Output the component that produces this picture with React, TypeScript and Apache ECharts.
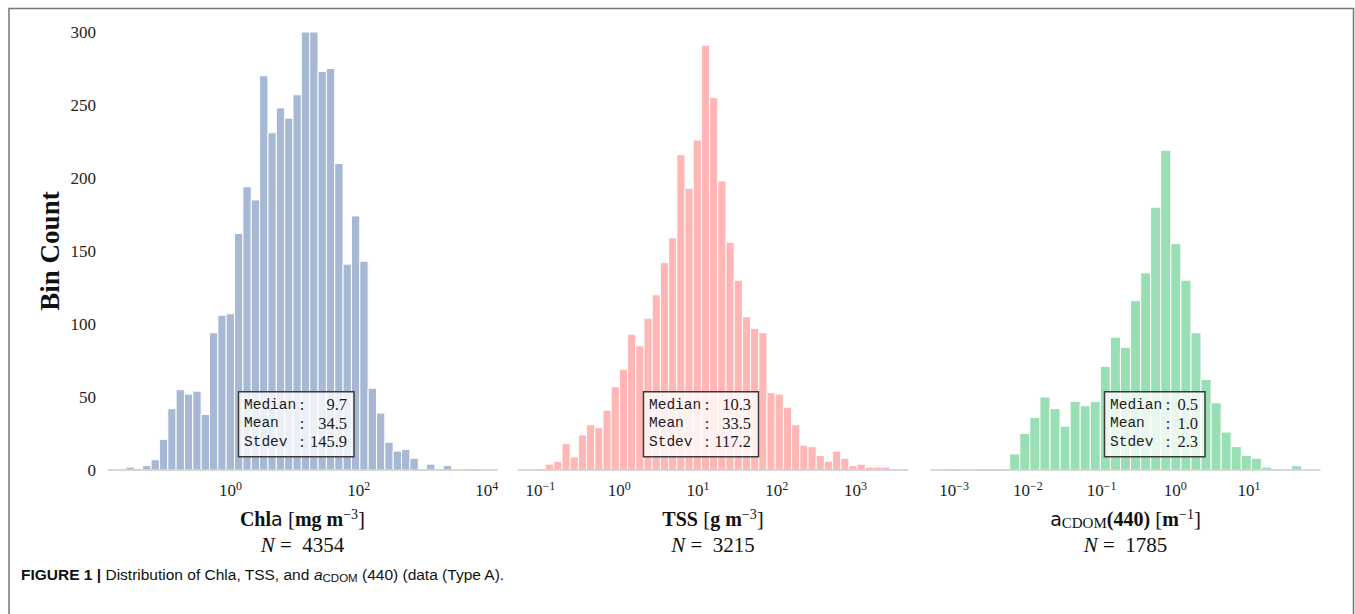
import React, { useEffect, useRef } from "react";
import * as echarts from "echarts";

// ---------- DATA ----------
// Histogram bin counts (log-spaced bins)
const chlaCounts = [2, 1, 3, 7, 21, 42, 55, 52, 54, 38, 94, 106, 107, 162, 194, 185, 270, 231, 248, 241, 257, 300, 300, 273, 275, 210, 141, 174, 143, 56, 39, 19, 13, 14, 8, 0, 4, 1, 3, 0, 0, 1];
const tssCounts = [1, 4, 6, 18, 9, 24, 31, 29, 41, 57, 69, 93, 85, 104, 120, 142, 159, 216, 193, 226, 291, 255, 198, 156, 130, 105, 97, 94, 53, 52, 43, 31, 17, 16, 10, 6, 13, 8, 3, 4, 2, 2, 2];
const cdomCounts = [1, 0, 0, 1, 1, 1, 11, 25, 36, 50, 42, 30, 47, 44, 47, 71, 91, 84, 116, 135, 180, 219, 155, 130, 94, 62, 46, 26, 16, 10, 8, 2, 1, 0, 3];

// log10 of the first bin edge and log10 bin width
const chlaBinStart = -1.63;
const chlaBinWidth = 0.13026;
const tssBinStart = -1.0381;
const tssBinWidth = 0.10412;
const cdomBinStart = -3.0637;
const cdomBinWidth = 0.13652;

// x-axis ranges (log10 units)
const chlaRange = [-1.911, 4.158];
const tssRange = [-1.2845, 3.6679];
const cdomRange = [-3.3119, 1.9627];

// tick labels (exponents of 10)
const chlaTicks = [0, 2, 4];
const tssTicks = [-1, 0, 1, 2, 3];
const cdomTicks = [-3, -2, -1, 0, 1];
const yTicks = [0, 50, 100, 150, 200, 250, 300];

// summary statistics
const statNames = ["Median", "Mean", "Stdev"];
const chlaStats = ["9.7", "34.5", "145.9"];
const tssStats = ["10.3", "33.5", "117.2"];
const cdomStats = ["0.5", "1.0", "2.3"];
const sampleSizes = [4354, 3215, 1785];

// ---------- helpers ----------
const SERIF = "Liberation Serif";
const SANS = "Liberation Sans";
const MONO = "Liberation Mono";

function toBins(counts: number[], start: number, width: number) {
  return counts.map((c, i) => [start + i * width, start + (i + 1) * width, c]);
}

function supText(v: number) {
  return v < 0 ? "\u2212" + Math.abs(v) : String(v);
}

const nameRich = {
  b: { fontFamily: SERIF, fontWeight: "bold", fontSize: 20, lineHeight: 26, color: "#111", align: "center" },
  a: { fontFamily: "DejaVu Sans", fontSize: 19, lineHeight: 26, color: "#111", align: "center" },
  r: { fontFamily: SERIF, fontSize: 21, lineHeight: 26, color: "#111", align: "center" },
  sup: { fontFamily: SERIF, fontSize: 14, lineHeight: 16, padding: [0, 0, 10, 0], color: "#111", align: "center" },
  sub: { fontFamily: SERIF, fontSize: 15, lineHeight: 16, padding: [8, 0, 0, 0], color: "#111", align: "center" },
  ni: { fontFamily: SERIF, fontStyle: "italic", fontSize: 21, lineHeight: 26, color: "#111", align: "center" },
};

const tickRich = {
  b: { fontFamily: SERIF, fontSize: 17, color: "#222" },
  s: { fontFamily: SERIF, fontSize: 12, padding: [0, 0, 9, 0], color: "#222" },
};

const panels = [
  {
    counts: chlaCounts, start: chlaBinStart, width: chlaBinWidth, range: chlaRange, ticks: chlaTicks,
    stats: chlaStats, color: "#a7b8d4", left: 108, w: 389,
    name: "{b|Chl}{a|a}{r| [}{b|mg m}{sup|\u22123}{r|]}\n{ni|N}{r| =  " + sampleSizes[0] + "}",
    box: { x: 238.5, w: 115.5, labelX: 244, colonX: 302, valueX: 347 },
  },
  {
    counts: tssCounts, start: tssBinStart, width: tssBinWidth, range: tssRange, ticks: tssTicks,
    stats: tssStats, color: "#ffb6b5", left: 518, w: 390,
    name: "{b|TSS}{r| [}{b|g m}{sup|\u22123}{r|]}\n{ni|N}{r| =  " + sampleSizes[1] + "}",
    box: { x: 643.5, w: 115, labelX: 649, colonX: 707, valueX: 751 },
  },
  {
    counts: cdomCounts, start: cdomBinStart, width: cdomBinWidth, range: cdomRange, ticks: cdomTicks,
    stats: cdomStats, color: "#98dfb3", left: 931, w: 389,
    name: "{a|a}{sub|CDOM}{b|(440)}{r| [}{b|m}{sup|\u22121}{r|]}\n{ni|N}{r| =  " + sampleSizes[2] + "}",
    box: { x: 1104.5, w: 100.5, labelX: 1110, colonX: 1168, valueX: 1198 },
  },
];

const GRID_TOP = 32;
const GRID_H = 438;
const Y_MAX = 300;

export default function App() {
  const ref = useRef<HTMLDivElement>(null);

  useEffect(() => {
    if (!ref.current) return;
    const chart = echarts.init(ref.current, null, { renderer: "svg" });

    const grids = panels.map((p) => ({ left: p.left, top: GRID_TOP, width: p.w, height: GRID_H }));

    const xAxes = panels.map((p, i) => ({
      type: "value",
      gridIndex: i,
      min: p.range[0],
      max: p.range[1],
      z: 10,
      axisLine: { show: true, onZero: false, lineStyle: { color: "#cccccc", width: 1.5 } },
      axisTick: { show: false },
      splitLine: { show: false },
      axisLabel: {
        customValues: p.ticks,
        margin: 10,
        formatter: (v: number) => "{b|10}{s|" + supText(Math.round(v)) + "}",
        rich: tickRich,
      },
      name: p.name,
      nameLocation: "middle",
      nameGap: 36,
      nameTextStyle: { rich: nameRich, align: "center" },
    }));

    const yAxes = panels.map((p, i) => ({
      type: "value",
      gridIndex: i,
      min: 0,
      max: Y_MAX,
      show: i === 0,
      axisLine: { show: false },
      axisTick: { show: false },
      splitLine: { show: false },
      axisLabel: {
        customValues: yTicks,
        margin: 12,
        fontFamily: SERIF,
        fontSize: 17,
        color: "#222",
      },
      name: i === 0 ? "Bin Count" : "",
      nameLocation: "middle",
      nameGap: 45,
      nameTextStyle: { fontFamily: SERIF, fontWeight: "bold", fontSize: 27, color: "#111" },
    }));

    const series = panels.map((p, i) => ({
      type: "custom",
      xAxisIndex: i,
      yAxisIndex: i,
      z: 2,
      clip: false,
      encode: { x: [0, 1], y: 2 },
      data: toBins(p.counts, p.start, p.width),
      renderItem: (params: any, api: any) => {
        const c = api.value(2);
        if (!c) return null;
        const a = api.coord([api.value(0), c]);
        const b = api.coord([api.value(1), 0]);
        return {
          type: "rect",
          shape: { x: a[0], y: a[1], width: b[0] - a[0], height: b[1] - a[1] },
          style: { fill: p.color, stroke: "#ffffff", lineWidth: 1 },
        };
      },
    }));

    const rowY = [404.5, 423, 441.7];
    const boxGraphics: any[] = [];
    panels.forEach((p) => {
      boxGraphics.push({
        type: "rect",
        z: 100,
        shape: { x: p.box.x, y: 391.7, width: p.box.w, height: 65 },
        style: { fill: "rgba(255,255,255,0.78)", stroke: "#3a3a3a", lineWidth: 1.5 },
      });
      statNames.forEach((n, k) => {
        boxGraphics.push({
          type: "text", z: 101, x: p.box.labelX, y: rowY[k],
          style: { text: n, align: "left", verticalAlign: "middle", fontFamily: MONO, fontSize: 14.5, fill: "#1a1a1a" },
        });
        boxGraphics.push({
          type: "text", z: 101, x: p.box.colonX, y: rowY[k],
          style: { text: ":", align: "center", verticalAlign: "middle", fontFamily: SERIF, fontSize: 16, fill: "#1a1a1a" },
        });
        boxGraphics.push({
          type: "text", z: 101, x: p.box.valueX, y: rowY[k],
          style: { text: p.stats[k], align: "right", verticalAlign: "middle", fontFamily: SERIF, fontSize: 16.5, fill: "#1a1a1a" },
        });
      });
    });

    const option = {
      animation: false,
      backgroundColor: "#ffffff",
      grid: grids,
      xAxis: xAxes,
      yAxis: yAxes,
      series,
      graphic: [
        {
          type: "rect",
          z: 0,
          silent: true,
          shape: { x: 9, y: 8.5, width: 1344.5, height: 640 },
          style: { fill: "none", stroke: "#777777", lineWidth: 1.5 },
        },
        ...boxGraphics,
        {
          type: "text",
          z: 100,
          x: 21,
          y: 574,
          style: {
            text: "{fb|FIGURE 1 |}{fr| Distribution of Chla, TSS, and }{fi|a}{fs|CDOM}{fr| (440) (data (Type A).}",
            verticalAlign: "middle",
            align: "left",
            rich: {
              fb: { fontFamily: SANS, fontWeight: "bold", fontSize: 15.5, fill: "#111" },
              fr: { fontFamily: SANS, fontSize: 15.5, fill: "#111" },
              fi: { fontFamily: SANS, fontStyle: "italic", fontSize: 15.5, fill: "#111" },
              fs: { fontFamily: SANS, fontSize: 11.5, padding: [7, 0, 0, 0], fill: "#111" },
            },
          },
        },
      ],
    };

    chart.setOption(option as any);
    return () => chart.dispose();
  }, []);

  return (
    <div
      ref={ref}
      style={{ position: "absolute", left: 0, top: 0, width: 1355, height: 614, background: "#fff" }}
    />
  );
}
